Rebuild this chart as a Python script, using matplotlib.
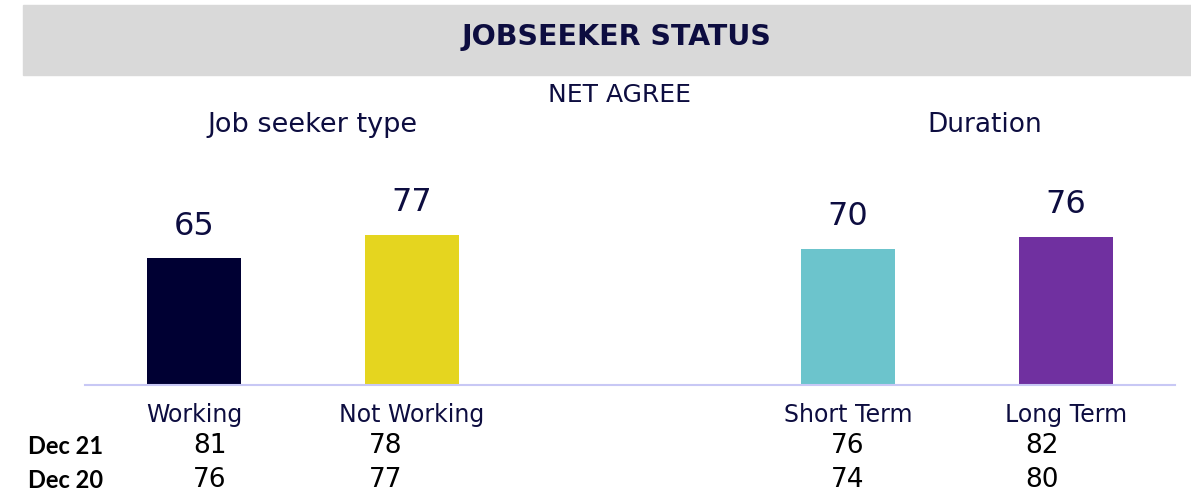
import matplotlib
matplotlib.use("Agg")
from matplotlib import pyplot as plt
from matplotlib import transforms
from matplotlib.patches import Rectangle

categories = ["Working", "Not Working", "Short Term", "Long Term"]
net_agree = [65, 77, 70, 76]
dec21 = [81, 78, 76, 82]
dec20 = [76, 77, 74, 80]
bar_colors = ["#000033", "#e5d51f", "#6cc4cc", "#7030a0"]

navy = "#0d0d40"
positions = [0, 1, 3, 4]
table_x = [0.073, 0.88, 3.0, 3.89]

fig = plt.figure(figsize=(11.91, 4.92), dpi=100)

# grey banner with the title
fig.patches.append(Rectangle((23 / 1191, 1 - 75 / 492), 1 - 23 / 1191, 70 / 492,
                             transform=fig.transFigure, color="#d9d9d9", zorder=0))
fig.text(617 / 1191, 1 - 37 / 492, "JOBSEEKER STATUS", ha="center", va="center",
         fontsize=20.5, fontweight="bold", color=navy)
fig.text(619 / 1191, 1 - 95 / 492, "NET AGREE", ha="center", va="center",
         fontsize=18, color=navy)
fig.text(313 / 1191, 1 - 125 / 492, "Job seeker type", ha="center", va="center",
         fontsize=19.5, color=navy)
fig.text(985 / 1191, 1 - 125 / 492, "Duration", ha="center", va="center",
         fontsize=19, color=navy)

ax = fig.add_axes([85 / 1191, 107 / 492, 1090 / 1191, 195 / 492])
bars = ax.bar(positions, net_agree, width=0.43, color=bar_colors)
ax.bar_label(bars, padding=12, fontsize=23, color=navy)
ax.set_xlim(-0.5, 4.5)
ax.set_ylim(0, 100)
ax.set_xticks(positions, categories)
ax.tick_params(axis="x", length=0, pad=13, labelsize=17, labelcolor=navy)
ax.set_yticks([])
for side in ["top", "left", "right"]:
    ax.spines[side].set_visible(False)
ax.spines["bottom"].set_color("#c8c8f5")
ax.spines["bottom"].set_linewidth(1.5)

# rows with the earlier waves
trans = transforms.blended_transform_factory(ax.transData, fig.transFigure)
rows = [("Dec 21", dec21, 1 - 446 / 492), ("Dec 20", dec20, 1 - 480 / 492)]
for name, vals, y in rows:
    fig.text(28 / 1191, y, name, ha="left", va="center", fontsize=17,
             fontweight="bold", color="black", family=["Lato", "DejaVu Sans"])
    for x, v in zip(table_x, vals):
        ax.text(x, y, str(v), transform=trans, ha="center", va="center",
                fontsize=19, color="black", clip_on=False)

fig.savefig("out.png", dpi=100)
